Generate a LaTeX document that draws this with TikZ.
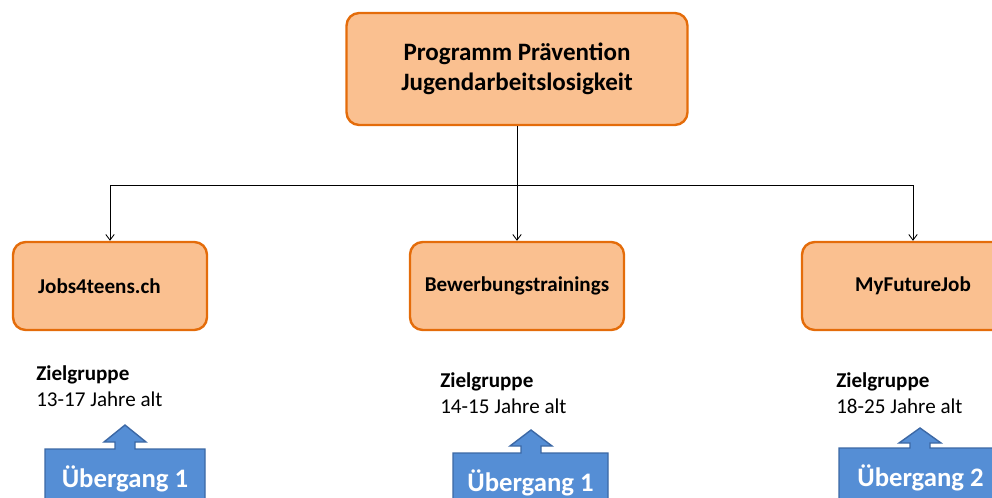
\documentclass[tikz,border=0pt]{standalone}
\usepackage{fontspec}
\setmainfont{Carlito}
\usetikzlibrary{arrows.meta}
\definecolor{boxfill}{RGB}{250,192,144}
\definecolor{boxline}{RGB}{228,108,10}
\definecolor{callfill}{RGB}{85,142,213}
\definecolor{callline}{RGB}{60,104,165}
\tikzset{
  prog/.style={draw=boxline, line width=1.7pt, fill=boxfill, rounded corners=9pt,
    font=\bfseries, inner sep=0pt},
  conn/.style={-{Straight Barb[length=4pt,width=6pt]}, line width=0.6pt},
  target/.style={anchor=north west, align=left, inner sep=0pt, font=\fontsize{15}{18.5}\selectfont},
  callout/.style={fill=callfill, draw=callline, line width=1pt},
}
\begin{document}
\begin{tikzpicture}[x=0.025cm, y=-0.025cm]
  \useasboundingbox (0,0) rectangle (992,498);
  \clip (0,0) rectangle (992,498);
  % programm und projekte
  \node[prog, minimum width=341*0.025cm, minimum height=112*0.025cm, align=center,
    font=\bfseries\fontsize{17.8}{21.5}\selectfont] (prog) at (517,69)
    {Programm Prävention\\Jugendarbeitslosigkeit};
  \node[prog, minimum width=194*0.025cm, minimum height=88*0.025cm,
    font=\bfseries\fontsize{15}{18}\selectfont] (jobs) at (110,286) {\hspace*{-15pt}Jobs4teens.ch};
  \node[prog, minimum width=214*0.025cm, minimum height=88*0.025cm,
    font=\bfseries\fontsize{15}{18}\selectfont] (bew) at (517,286) {Bewerbungstrainings};
  \node[prog, minimum width=222*0.025cm, minimum height=88*0.025cm,
    font=\bfseries\fontsize{15}{18}\selectfont] (myjob) at (913,286) {MyFutureJob};
  % verbindungen
  \coordinate (split) at (517,185);
  \draw[line width=0.6pt] (prog.south) -- (split);
  \draw[conn] (split) -| (jobs.north);
  \draw[conn] (split) -- (bew.north);
  \draw[conn] (split) -| (myjob.north);
  % zielgruppen
  \node[target] (zjobs) at (36,365) {\textbf{Zielgruppe}\\13-17 Jahre alt};
  \node[target] (zbew) at (440,372) {\textbf{Zielgruppe}\\14-15 Jahre alt};
  \node[target] (zmyjob) at (836,372) {\textbf{Zielgruppe}\\18-25 Jahre alt};
  % uebergaenge
  \foreach \name/\tx/\ty/\hy/\ry/\xa/\xb/\lbl in
    {ujobs/125/425/442/449/45/205/{Übergang 1},
     ubew/531/430/446/453/453/608/{Übergang 1},
     umyjob/920/428/443/448/839/1002/{Übergang 2}} {
    \draw[callout] (\xa,\ry) -- (\tx-10,\ry) -- (\tx-10,\hy) -- (\tx-21,\hy) -- (\tx,\ty)
      -- (\tx+21,\hy) -- (\tx+10,\hy) -- (\tx+10,\ry) -- (\xb,\ry) -- (\xb,520)
      -- (\xa,520) -- cycle;
    \node[text=white, font=\bfseries\fontsize{19}{22}\selectfont] (\name) at ({(\xa+\xb)/2},{\ry+30}) {\lbl};
  }
\end{tikzpicture}
\end{document}
